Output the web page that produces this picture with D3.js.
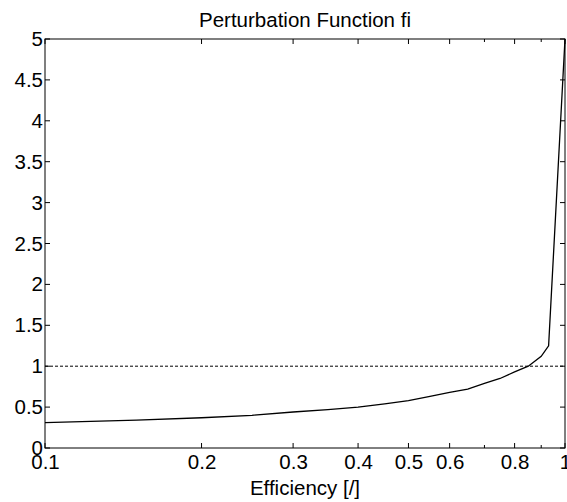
<!DOCTYPE html>
<html>
<head>
<meta charset="utf-8">
<script src="https://cdn.jsdelivr.net/npm/d3@7"></script>
<style>
  body { margin: 0; background: #fff; }
  text { font-family: Arial, "Liberation Sans", sans-serif; fill: #000; }
</style>
</head>
<body>
<svg id="mainsvg" width="567" height="502"></svg>
<script>
// data
const efficiency = [0.1, 0.15, 0.2, 0.25, 0.3, 0.35, 0.4, 0.45, 0.5, 0.55, 0.6, 0.65, 0.7, 0.75, 0.8, 0.85, 0.9, 0.93, 1.0];
const fiValues   = [0.31, 0.34, 0.37, 0.40, 0.44, 0.47, 0.50, 0.54, 0.58, 0.63, 0.68, 0.72, 0.79, 0.85, 0.93, 1.00, 1.12, 1.25, 5.0];
const xTickValues = [0.1, 0.2, 0.3, 0.4, 0.5, 0.6, 0.7, 0.8, 0.9, 1];
const xTickLabels = ['0.1', '0.2', '0.3', '0.4', '0.5', '0.6', '', '0.8', '', '1'];
const yTickValues = [0, 0.5, 1, 1.5, 2, 2.5, 3, 3.5, 4, 4.5, 5];
const referenceLevel = [1];

const svg = d3.select('#mainsvg');
const width = +svg.attr('width');
const height = +svg.attr('height');
const margin = {top: 39, right: 2, bottom: 54, left: 45};
const innerWidth = width - margin.left - margin.right;
const innerHeight = height - margin.top - margin.bottom;
const fontSize = 20.5;
const fontFamily = 'Arial, "Liberation Sans", sans-serif';

const g = svg.append('g')
    .attr('transform', `translate(${margin.left}, ${margin.top})`);

const xScale = d3.scaleLog().domain([0.1, 1]).range([0, innerWidth]);
const yScale = d3.scaleLinear().domain([0, 5]).range([innerHeight, 0]);

const data = efficiency.map((e, i) => ({x: e, y: fiValues[i]}));

// reference dashed line
g.selectAll('.refLine')
    .data(referenceLevel)
    .enter().append('line')
    .attr('class', 'refLine')
    .attr('x1', 0).attr('x2', innerWidth)
    .attr('y1', d => yScale(d)).attr('y2', d => yScale(d))
    .attr('stroke', '#000')
    .attr('stroke-width', 1)
    .attr('stroke-dasharray', '3,2');

// curve
const line = d3.line().x(d => xScale(d.x)).y(d => yScale(d.y));
g.append('path')
    .datum(data)
    .attr('d', line)
    .attr('fill', 'none')
    .attr('stroke', '#000')
    .attr('stroke-width', 1.3);

// ticks, inward on all four sides
const tickLen = d => (d === 0.7 || d === 0.9) ? 3 : 5;

const xBottom = d3.axisBottom(xScale)
    .tickValues(xTickValues)
    .tickSize(0)
    .tickFormat((d, i) => xTickLabels[i]);
const xAxisG = g.append('g').attr('transform', `translate(0, ${innerHeight})`).call(xBottom);
xAxisG.select('.domain').remove();
xAxisG.selectAll('.tick text')
    .attr('font-size', fontSize)
    .attr('font-family', fontFamily)
    .attr('y', 6);

const yLeft = d3.axisLeft(yScale)
    .tickValues(yTickValues)
    .tickSize(0)
    .tickFormat(d3.format('~g'));
const yAxisG = g.append('g').call(yLeft);
yAxisG.select('.domain').remove();
yAxisG.selectAll('.tick text')
    .attr('font-size', fontSize)
    .attr('font-family', fontFamily)
    .attr('x', -2);

const tickG = g.append('g').attr('stroke', '#000').attr('stroke-width', 1);
xTickValues.forEach(v => {
  const x = xScale(v);
  tickG.append('line').attr('x1', x).attr('x2', x).attr('y1', innerHeight).attr('y2', innerHeight - tickLen(v));
  tickG.append('line').attr('x1', x).attr('x2', x).attr('y1', 0).attr('y2', tickLen(v));
});
yTickValues.forEach(v => {
  const y = yScale(v);
  tickG.append('line').attr('x1', 0).attr('x2', 5).attr('y1', y).attr('y2', y);
  tickG.append('line').attr('x1', innerWidth).attr('x2', innerWidth - 5).attr('y1', y).attr('y2', y);
});

// box
g.append('rect')
    .attr('width', innerWidth)
    .attr('height', innerHeight)
    .attr('fill', 'none')
    .attr('stroke', '#000')
    .attr('stroke-width', 1);

// title and label
g.append('text')
    .attr('x', innerWidth / 2)
    .attr('y', -12)
    .attr('text-anchor', 'middle')
    .attr('font-size', fontSize)
    .text('Perturbation Function fi');

g.append('text')
    .attr('x', innerWidth / 2)
    .attr('y', innerHeight + 47)
    .attr('text-anchor', 'middle')
    .attr('font-size', fontSize)
    .text('Efficiency [/]');
</script>
</body>
</html>
